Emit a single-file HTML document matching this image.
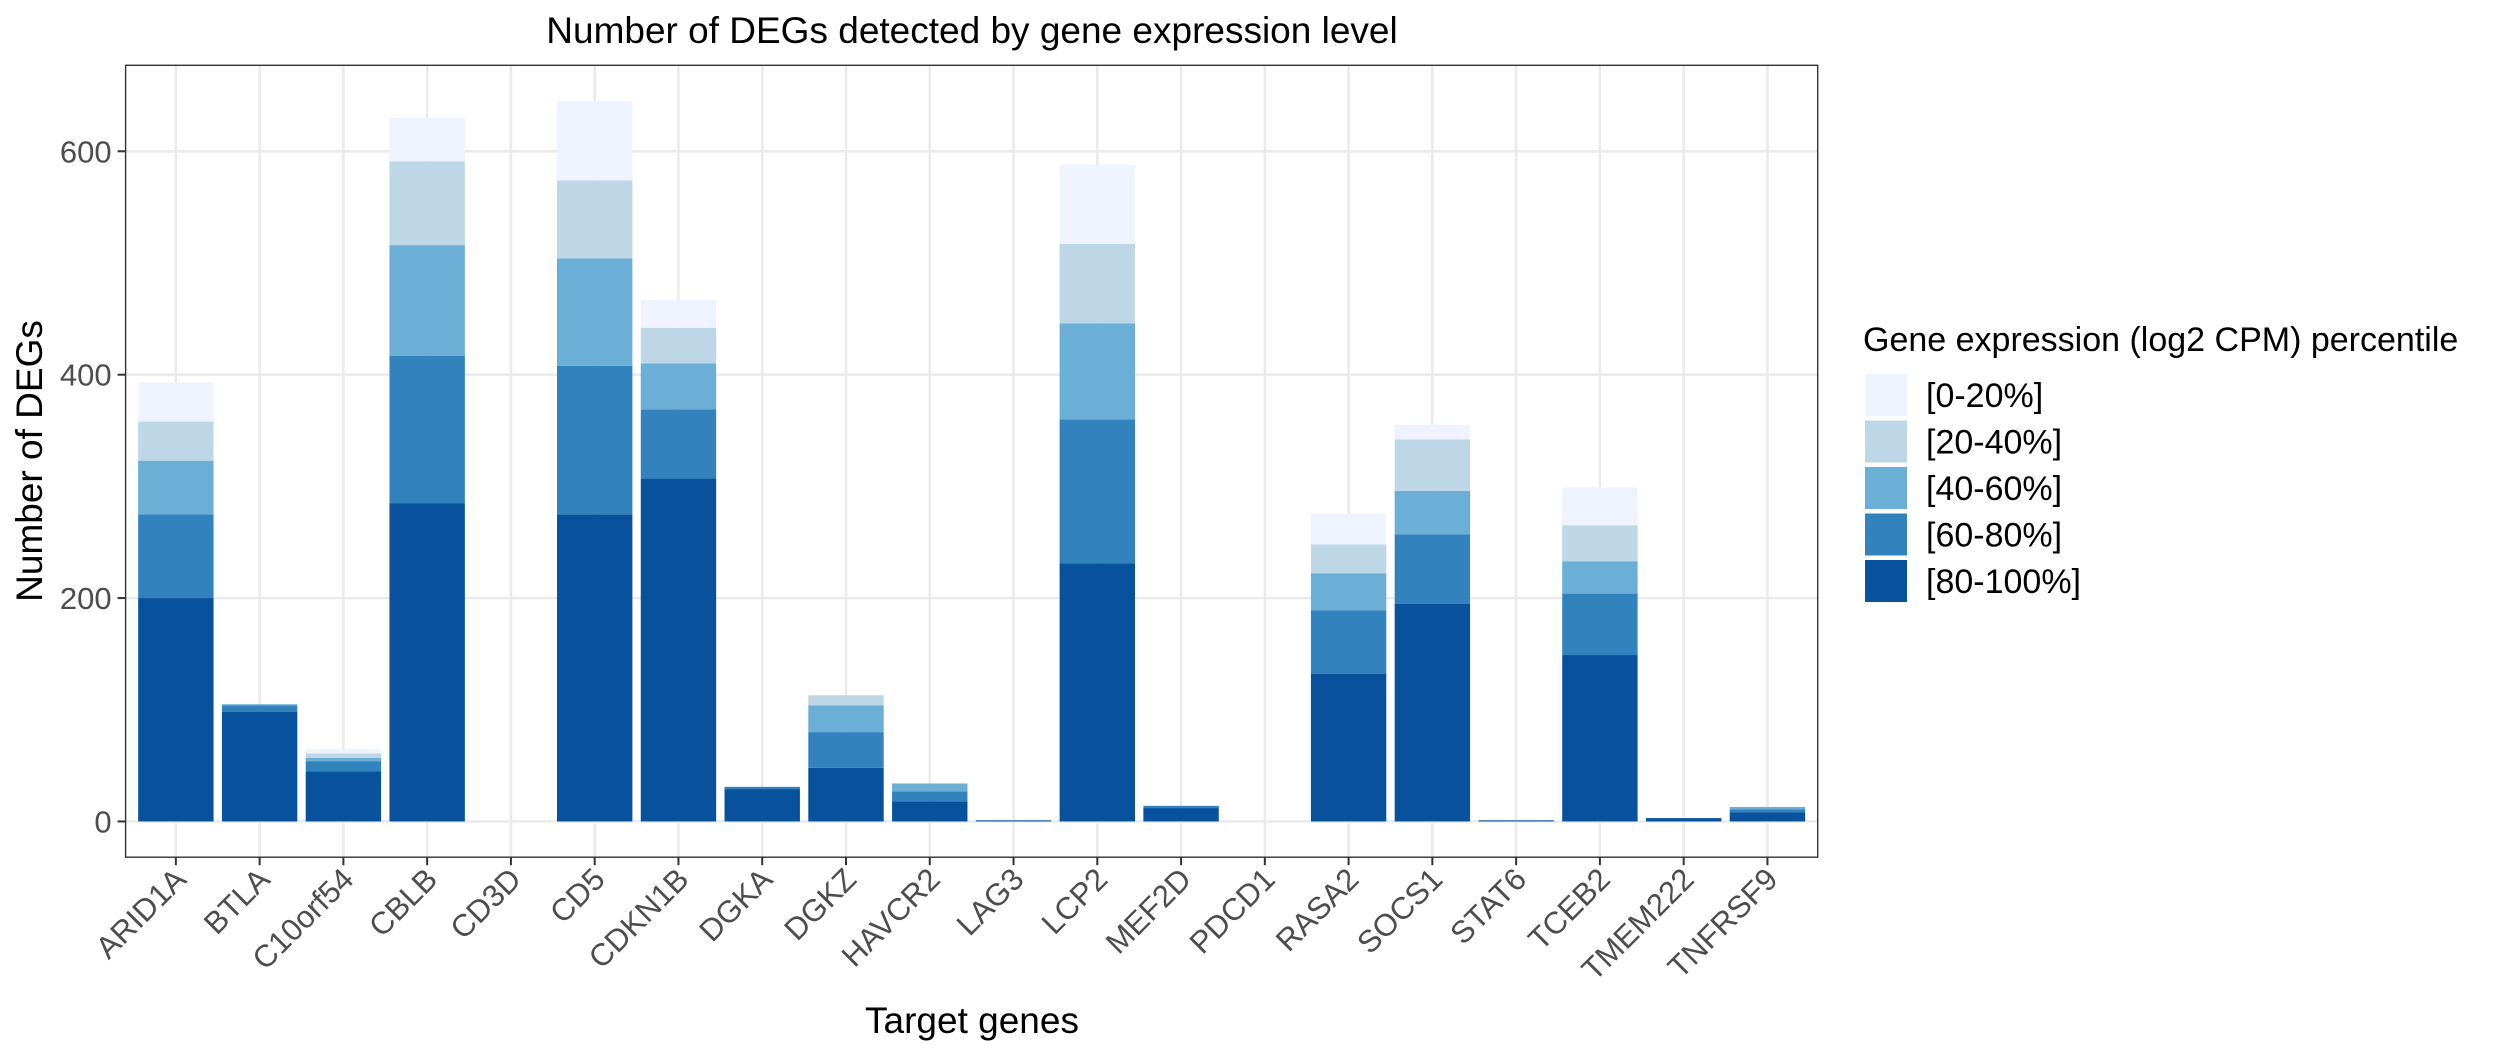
<!DOCTYPE html>
<html><head><meta charset="utf-8">
<style>
html,body{margin:0;padding:0;background:#fff;}
svg{display:block;font-family:"Liberation Sans",Arial,sans-serif;}
</style></head>
<body>
<svg id="chart" width="2496" height="1056" viewBox="0 0 2496 1056" xmlns="http://www.w3.org/2000/svg">
<rect x="0" y="0" width="2496" height="1056" fill="#fff"/>
<text x="972" y="43" font-size="37" text-anchor="middle" fill="#000">Number of DEGs detected by gene expression level</text>
<g id="plot"></g>
<text transform="translate(42,461) rotate(-90)" font-size="37" text-anchor="middle" fill="#000">Number of DEGs</text>
<text x="972" y="1033" font-size="37" text-anchor="middle" fill="#000">Target genes</text>
<g id="legend">
<text x="1863" y="351" font-size="34" fill="#000">Gene expression (log2 CPM) percentile</text>
</g>
</svg>
<script>
const categories = ["ARID1A","BTLA","C10orf54","CBLB","CD3D","CD5","CDKN1B","DGKA","DGKZ","HAVCR2","LAG3","LCP2","MEF2D","PDCD1","RASA2","SOCS1","STAT6","TCEB2","TMEM222","TNFRSF9"];
const seriesNames = ["[80-100%]","[60-80%]","[40-60%]","[20-40%]","[0-20%]"];
const s80_100 = [200,98,45,285,0,275,307,29,48,18,1,231,12,0,132,195,1,149,3,8];
const s60_80  = [75,6,9,132,0,133,62,2,32,9,0,129,2,0,57,62,0,55,0,3];
const s40_60  = [48,1,3,99,0,96,41,0,24,7,0,86,0,0,33,39,0,29,0,2];
const s20_40  = [35,0,4,75,0,70,32,0,9,0,0,71,0,0,26,46,0,32,0,0];
const s0_20   = [35,0,4,39,0,71,25,0,0,0,0,71,0,0,28,13,0,34,0,0];
const yTicks = [0,200,400,600];
const seriesColors = ["#08519c","#3182bd","#6baed6","#bdd7e7","#eff3ff"];

const NS="http://www.w3.org/2000/svg";
const L=125.6,R=1817.7,T=65.3,B=857.2;
const yMin=-32,yMax=677;
const y=v=>B-(v-yMin)/(yMax-yMin)*(B-T);
const step=(R-L)/(categories.length-1+1.2);
const x=i=>L+step*(0.6+i);
const bw=step*0.9;
function el(tag,attrs,parent){const e=document.createElementNS(NS,tag);for(const k in attrs)e.setAttribute(k,attrs[k]);parent.appendChild(e);return e;}
const plot=document.getElementById('plot');
el('rect',{x:L,y:T,width:R-L,height:B-T,fill:'#fff'},plot);
yTicks.forEach(v=>{const g=el('line',{x1:L,x2:R,y1:y(v),y2:y(v),stroke:'#ebebeb','stroke-width':2.6},plot);

});
categories.forEach((c,i)=>{const g=el('line',{x1:x(i),x2:x(i),y1:T,y2:B,stroke:'#ebebeb','stroke-width':2.6},plot);

});
const series=[s80_100,s60_80,s40_60,s20_40,s0_20];
categories.forEach((c,i)=>{
  let base=0;
  series.forEach((s,k)=>{
    const v=s[i]; if(v<=0) return;
    const r=el('rect',{x:x(i)-bw/2,y:y(base+v),width:bw,height:y(base)-y(base+v),fill:seriesColors[k]},plot);
    
    
    base+=v;
  });
});
el('rect',{x:L,y:T,width:R-L,height:B-T,fill:'none',stroke:'#333','stroke-width':1.4},plot);
yTicks.forEach(v=>{
  el('line',{x1:L-8,x2:L,y1:y(v),y2:y(v),stroke:'#333','stroke-width':2},plot);
  const t=el('text',{x:L-14,y:y(v)+11,'font-size':31,'text-anchor':'end',fill:'#4d4d4d'},plot);
  t.textContent=v;
  
  
});
categories.forEach((c,i)=>{
  el('line',{x1:x(i),x2:x(i),y1:B,y2:B+8,stroke:'#333','stroke-width':2},plot);
  const t=el('text',{transform:`translate(${x(i)+12},${B+24}) rotate(-45)`,'font-size':31,'text-anchor':'end',fill:'#4d4d4d'},plot);
  t.textContent=c;
  
  
});
const leg=document.getElementById('legend');
const legendOrder=[4,3,2,1,0];
legendOrder.forEach((k,j)=>{
  const top=374+j*46.5;
  const r=el('rect',{x:1865,y:top,width:42,height:42,fill:seriesColors[k]},leg);
  
  
  const t=el('text',{x:1926,y:top+33,'font-size':34,fill:'#000'},leg);
  t.textContent=seriesNames[k];
  
  
});
</script>
</body></html>
